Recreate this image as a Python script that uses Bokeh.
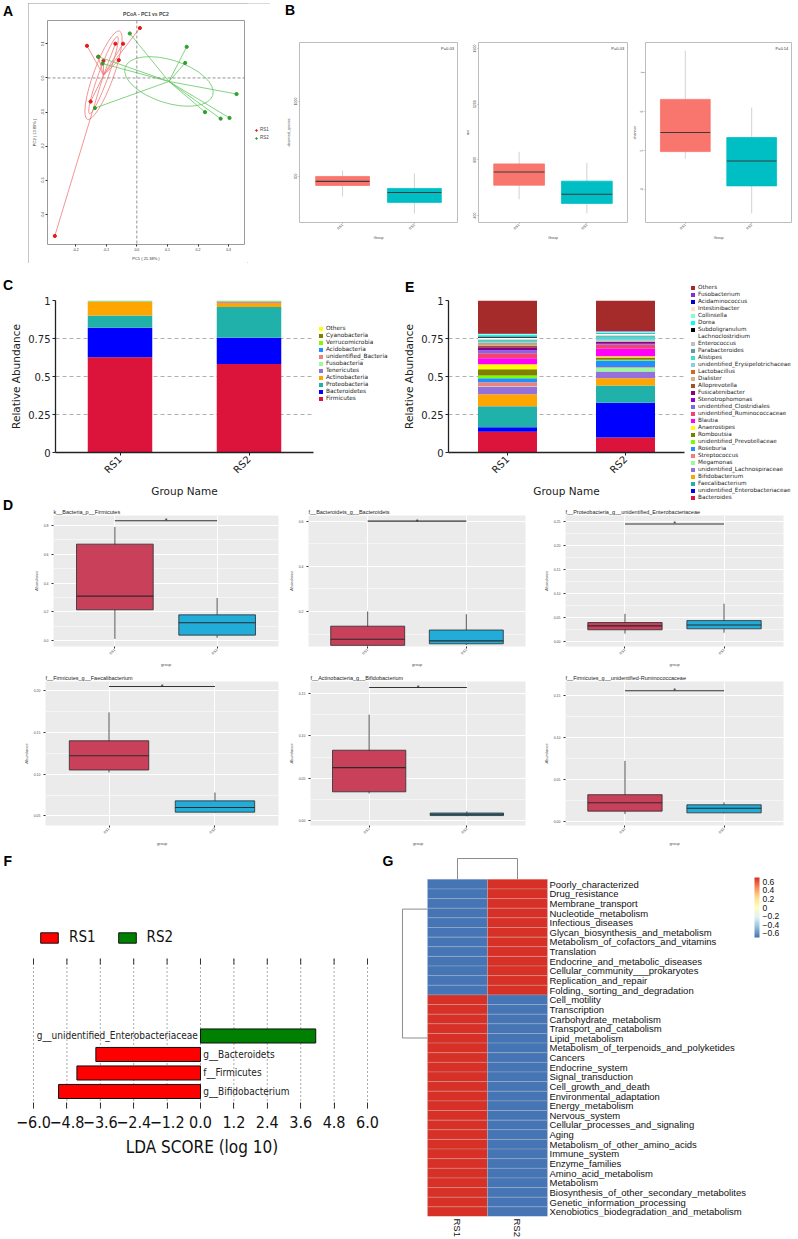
import math
from bokeh.plotting import figure
from bokeh.layouts import row, column
from bokeh.models import (Range1d, FixedTicker, Label, Legend, LegendItem, Span,
                          LinearColorMapper, ColorBar, CustomJSTickFormatter, ColumnDataSource,
                          Div, Spacer, AllLabels)
from bokeh.core.properties import value
from bokeh.palettes import RdYlBu
from bokeh.embed import file_html
from bokeh.resources import INLINE

# ====================== DATA ======================
groups = ["RS1", "RS2"]

# --- A: PCoA ---
pc_rs1_x = [0.010, -0.163, -0.070, -0.045, -0.059, -0.109, -0.126, -0.151, -0.268]
pc_rs1_y = [0.146, 0.094, 0.100, 0.100, 0.052, 0.050, 0.062, -0.069, -0.462]
pc_rs2_x = [-0.023, 0.163, 0.158, -0.126, -0.112, -0.137, 0.326, 0.223, 0.274, 0.303]
pc_rs2_y = [0.130, 0.091, 0.044, 0.062, 0.042, -0.088, -0.047, -0.100, -0.119, -0.117]
pc_xticks = [-0.2, -0.1, 0.0, 0.1, 0.2, 0.3]
pc_yticks = [-0.4, -0.3, -0.2, -0.1, 0.0, 0.1]

# --- B: alpha diversity (q1, median, q3, lower whisker, upper whisker) ---
alpha_metrics = ["observed_species", "ace", "shannon"]
alpha_rs1 = [[440, 467, 500, 367, 540], [618, 713, 771, 516, 858], [4.97, 5.46, 6.31, 4.79, 7.56]]
alpha_rs2 = [[327, 393, 420, 253, 520], [487, 553, 647, 415, 778], [4.09, 4.73, 5.33, 3.38, 6.10]]
alpha_p = ["P=0.03", "P=0.03", "P=0.14"]
alpha_ticks = [[500, 1000], [400, 800, 1200, 1600], [4, 5, 6, 7]]
alpha_ylim = [(193, 1393), (350, 1643), (3.15, 7.77)]

# --- C: phylum relative abundance (bottom to top) ---
phyla = ["Firmicutes", "Bacteroidetes", "Proteobacteria", "Actinobacteria", "Tenericutes",
         "Fusobacteria", "unidentified_Bacteria", "Acidobacteria", "Verrucomicrobia",
         "Cyanobacteria", "Others"]
phyla_rs1 = [0.627, 0.193, 0.082, 0.088, 0.002, 0.001, 0.001, 0.001, 0.001, 0.002, 0.002]
phyla_rs2 = [0.582, 0.173, 0.202, 0.029, 0.005, 0.002, 0.001, 0.001, 0.001, 0.002, 0.002]
phyla_colors = ["#DC143C", "#0000FF", "#20B2AA", "#FFA500", "#9370DB", "#98FB98", "#F08080",
                "#1E90FF", "#7CFC00", "#808000", "#FFFF00"]

# --- E: genus relative abundance (bottom to top) ---
genera = ["Bacteroides", "unidentified_Enterobacteriaceae", "Faecalibacterium", "Bifidobacterium",
          "unidentified_Lachnospiraceae", "Megamonas", "Streptococcus", "Roseburia",
          "unidentified_Prevotellaceae", "Romboutsia", "Anaerostipes", "Blautia",
          "unidentified_Ruminococcaceae", "unidentified_Clostridiales", "Stenotrophomonas",
          "Fusicatenibacter", "Alloprevotella", "Dialister", "Lactobacillus",
          "unidentified_Erysipelotrichaceae", "Alistipes", "Parabacteroides", "Enterococcus",
          "Lachnoclostridium", "Subdoligranulum", "Dorea", "Collinsella", "Intestinibacter",
          "Acidaminococcus", "Fusobacterium", "Others"]
genera_rs1 = [0.136, 0.030, 0.138, 0.080, 0.048, 0.004, 0.026, 0.026, 0.018, 0.042, 0.032, 0.040,
              0.033, 0.018, 0.004, 0.018, 0.008, 0.010, 0.008, 0.006, 0.010, 0.006, 0.004, 0.010,
              0.008, 0.010, 0.005, 0.002, 0.001, 0.001, 0.218]
genera_rs2 = [0.098, 0.230, 0.112, 0.048, 0.045, 0.024, 0.006, 0.042, 0.006, 0.014, 0.008, 0.050,
              0.026, 0.004, 0.002, 0.012, 0.002, 0.004, 0.002, 0.012, 0.014, 0.006, 0.004, 0.008,
              0.004, 0.006, 0.005, 0.002, 0.002, 0.002, 0.200]
genera_colors = ["#DC143C", "#0000FF", "#20B2AA", "#FFA500", "#9370DB", "#98FB98", "#F08080",
                 "#1E90FF", "#7CFC00", "#808000", "#FFFF00", "#FF00FF", "#F4436F", "#7B68EE",
                 "#9400D3", "#8B008B", "#A0522D", "#D2B48C", "#D2691E", "#87CEEB", "#40E0D0",
                 "#5F9EA0", "#C0C0C0", "#FFFFFF", "#000000", "#00FFFF", "#7FFFD4", "#FFE4C4",
                 "#0000CD", "#8A2BE2", "#A52A2A"]

# --- D: differential taxa boxplots (q1, median, q3, lower, upper) ---
d_titles = ["k__Bacteria_p__Firmicutes", "f__Bacteroidets_g__Bacteroidets",
            "f__Proteobacteria_g__unidentified_Enterobacteriaceae",
            "f__Firmicutes_g__Faecalibacterium", "f__Actinobacteria_g__Bifidobacterium",
            "f__Firmicutes_g__unidentified-Ruminococcaceae"]
d_rs1 = [[0.215, 0.310, 0.671, 0.013, 0.790], [0.050, 0.077, 0.135, 0.046, 0.200],
         [0.025, 0.033, 0.040, 0.017, 0.058], [0.105, 0.122, 0.140, 0.102, 0.174],
         [0.034, 0.0625, 0.083, 0.032, 0.125], [0.0125, 0.0225, 0.032, 0.009, 0.072]]
d_rs2 = [[0.039, 0.125, 0.180, 0.020, 0.297], [0.057, 0.070, 0.118, 0.052, 0.188],
         [0.027, 0.035, 0.044, 0.019, 0.079], [0.0545, 0.060, 0.068, 0.054, 0.078],
         [0.006, 0.0075, 0.009, 0.005, 0.011], [0.0105, 0.016, 0.020, 0.010, 0.023]]
d_sig = [0.834, 0.600, 0.244, 0.205, 0.157, 0.155]
d_ticks = [[0.0, 0.2, 0.4, 0.6, 0.8], [0.2, 0.4, 0.6], [0.0, 0.05, 0.10, 0.15, 0.20, 0.25],
           [0.05, 0.10, 0.15, 0.20], [0.0, 0.05, 0.10, 0.15], [0.0, 0.05, 0.10, 0.15]]
d_dec = [1, 1, 2, 2, 2, 2]
d_ylim = [(-0.04, 0.87), (0.045, 0.625), (-0.0096, 0.2615), (0.0385, 0.211), (-0.0057, 0.164),
          (-0.0045, 0.166)]

# --- F: LEfSe ---
lda_features = ["g__unidentified_Enterobacteriaceae", "g__Bacteroidets", "f__Firmicutes",
                "g__Bifidobacterium"]
lda_scores = [4.14, -3.76, -4.44, -5.10]
lda_groups = ["RS2", "RS1", "RS1", "RS1"]
lda_ticks = [-6.0, -4.8, -3.6, -2.4, -1.2, 0.0, 1.2, 2.4, 3.6, 4.8, 6.0]

# --- G: KEGG heatmap (row z-scores) ---
pathways = ["Poorly_characterized", "Drug_resistance", "Membrane_transport", "Nucleotide_metabolism",
            "Infectious_diseases", "Glycan_biosynthesis_and_metabolism",
            "Metabolism_of_cofactors_and_vitamins", "Translation", "Endocrine_and_metabolic_diseases",
            "Cellular_community___prokaryotes", "Replication_and_repair",
            "Folding,_sorting_and_degradation", "Cell_motility", "Transcription",
            "Carbohydrate_metabolism", "Transport_and_catabolism", "Lipid_metabolism",
            "Metabolism_of_terpenoids_and_polyketides", "Cancers", "Endocrine_system",
            "Signal_transduction", "Cell_growth_and_death", "Environmental_adaptation",
            "Energy_metabolism", "Nervous_system", "Cellular_processes_and_signaling", "Aging",
            "Metabolism_of_other_amino_acids", "Immune_system", "Enzyme_families",
            "Amino_acid_metabolism", "Metabolism", "Biosynthesis_of_other_secondary_metabolites",
            "Genetic_information_processing", "Xenobiotics_biodegradation_and_metabolism"]
hm_rs1 = [-0.707, -0.707, -0.707, -0.707, -0.707, -0.707, -0.707, -0.707, -0.707, -0.707, -0.707,
          -0.707, 0.707, 0.707, 0.707, 0.707, 0.707, 0.707, 0.707, 0.707, 0.707, 0.707, 0.707,
          0.707, 0.707, 0.707, 0.707, 0.707, 0.707, 0.707, 0.707, 0.707, 0.707, 0.707, 0.707]
hm_rs2 = [0.707, 0.707, 0.707, 0.707, 0.707, 0.707, 0.707, 0.707, 0.707, 0.707, 0.707,
          0.707, -0.707, -0.707, -0.707, -0.707, -0.707, -0.707, -0.707, -0.707, -0.707, -0.707,
          -0.707, -0.707, -0.707, -0.707, -0.707, -0.707, -0.707, -0.707, -0.707, -0.707, -0.707,
          -0.707, -0.707]
row_dendro_anchor = [3.09, 16.47]   # rows from top where the two clusters join
row_tree_height = 0.417
col_tree_height = 2.16
cbar_ticks = [-0.6, -0.4, -0.2, 0.0, 0.2, 0.4, 0.6]

# ====================== HELPERS ======================
SANS = "DejaVu Sans"
ARIAL = "Liberation Sans"
NARROW = "'Liberation Sans Narrow', 'DejaVu Sans Condensed', sans-serif"


def base_fig(w, h, l, r, t, b, xr, yr, **kw):
    p = figure(width=w, height=h, x_range=xr, y_range=yr, output_backend="svg",
               toolbar_location=None, tools="", min_border_left=l, min_border_right=r,
               min_border_top=t, min_border_bottom=b, **kw)
    try:
        p.frame_align = False
    except Exception:
        pass
    p.xgrid.grid_line_color = None
    p.ygrid.grid_line_color = None
    p.outline_line_color = None
    return p


def legend_fig(w, h):
    # legend-only canvas; its proxy glyphs sit outside the visible ranges
    p = figure(width=w, height=h, x_range=Range1d(1, 2), y_range=Range1d(1, 2),
               output_backend="svg", toolbar_location=None, tools="", x_axis_location=None,
               y_axis_location=None, min_border_left=0, min_border_right=0, min_border_top=0,
               min_border_bottom=0)
    try:
        p.frame_align = False
    except Exception:
        pass
    p.outline_line_color = None
    p.grid.visible = False
    return p


def style_axis(ax, font, size, lsize, color="#333333", tick_out=2, standoff=1, lstandoff=2,
               tick_color="#333333"):
    ax.major_label_text_font = font
    ax.major_label_text_font_size = size
    ax.major_label_text_color = color
    ax.axis_label_text_font = font
    ax.axis_label_text_font_size = lsize
    ax.axis_label_text_font_style = "normal"
    ax.axis_label_text_color = color
    ax.major_tick_out = tick_out
    ax.major_tick_in = 0
    ax.major_tick_line_color = tick_color
    ax.minor_tick_line_color = None
    ax.major_label_standoff = standoff
    ax.axis_label_standoff = lstandoff


def letter_div(text, w, h, indent, cap_top):
    lh = 2 * (cap_top - 2.65) + 15.64
    return Div(text=text, width=w, height=h,
               styles={"font-family": "'Liberation Sans', Arial, sans-serif",
                       "font-size": "14px", "font-weight": "bold",
                       "line-height": "%.1fpx" % lh, "text-indent": "%dpx" % indent,
                       "color": "black", "margin": "0", "padding": "0"})


def fmt(dec):
    return CustomJSTickFormatter(code="return tick.toFixed(%d);" % dec)


def draw_boxes(p, stats_list, fills, line_colors, med_color, wh_color, wh_width, bw=0.75):
    xs = [1, 2]
    q1 = [s[0] for s in stats_list]
    med = [s[1] for s in stats_list]
    q3 = [s[2] for s in stats_list]
    lo = [s[3] for s in stats_list]
    hi = [s[4] for s in stats_list]
    p.segment(x0=xs, y0=lo, x1=xs, y1=hi, line_color=wh_color, line_width=wh_width)
    p.vbar(x=xs, bottom=q1, top=q3, width=bw, fill_color=fills, line_color=line_colors,
           line_width=0.8)
    p.segment(x0=[x - bw / 2 for x in xs], y0=med, x1=[x + bw / 2 for x in xs], y1=med,
              line_color=med_color, line_width=1.1)


def proxy_items(p, names, colors, kind):
    items = []
    for n, c in zip(names, colors):
        if kind == "bar":
            r = p.vbar(x=[0], bottom=[0], top=[0], width=0, fill_color=c, line_color=None)
        else:
            r = p.scatter(x=[0], y=[0], size=3.2, fill_color=c, line_color=c)
        items.append(LegendItem(label=n, renderers=[r]))
    return items


# ====================== PANEL A ======================
A_W, A_H = 219, 260
pA = base_fig(A_W, A_H, 13, 3, 17, 17, Range1d(-0.292, 0.352), Range1d(-0.487, 0.168))
pA.outline_line_color = "#9a9a9a"
pA.title.text = "PCoA - PC1 vs PC2"
pA.title.align = "center"
pA.title.text_font = ARIAL
pA.title.text_font_size = "5px"
pA.title.standoff = 7
pA.title.offset = 0
pA.xaxis.ticker = FixedTicker(ticks=pc_xticks)
pA.yaxis.ticker = FixedTicker(ticks=pc_yticks)
pA.xaxis.formatter = fmt(1)
pA.yaxis.formatter = fmt(1)
pA.xaxis.axis_label = "PC1 ( 21.38% )"
pA.yaxis.axis_label = "PC2 ( 13.89% )"
for ax in (pA.xaxis[0], pA.yaxis[0]):
    style_axis(ax, ARIAL, "3.5px", "4px", tick_out=2, standoff=1, lstandoff=2)
    ax.axis_line_color = None
pA.yaxis.major_label_orientation = "vertical"
pA.add_layout(Span(location=0, dimension="height", line_dash="3 2", line_color="#666666",
                   line_width=0.7))
pA.add_layout(Span(location=0, dimension="width", line_dash="3 2", line_color="#666666",
                   line_width=0.7))
pc_colors = ["#E31A1C", "#2CA02C"]
pc_sets = [("RS1", pc_rs1_x, pc_rs1_y, pc_colors[0], "#F07A7A",
            [(94, 20, 70), (82, 10, 70)]),
           ("RS2", pc_rs2_x, pc_rs2_y, pc_colors[1], "#62C862",
            [(92, 43, -17.7)])]
for name, xs, ys, pcol, lcol, ells in pc_sets:
    cx = sum(xs) / len(xs)
    cy = sum(ys) / len(ys)
    pA.segment(x0=[cx] * len(xs), y0=[cy] * len(ys), x1=xs, y1=ys, line_color=lcol,
               line_width=0.8)
    for (ew, eh, ea) in ells:
        pA.ellipse(x=[cx], y=[cy], width=[ew], height=[eh], angle=[ea], angle_units="deg",
                   width_units="screen", height_units="screen", fill_alpha=0,
                   line_color=lcol, line_width=0.8)
    pA.scatter(xs, ys, size=3.2, color=pcol)
pAL = legend_fig(23, A_H)
legA = Legend(items=proxy_items(pAL, groups, pc_colors, "dot"),
              location=(7, 123), label_text_font=ARIAL,
              label_text_font_size="4.5px", glyph_width=4, glyph_height=4, label_height=5,
              spacing=3, padding=0, margin=0, label_standoff=2, border_line_color=None,
              background_fill_alpha=0)
pAL.add_layout(legA)
boxA = row(pA, pAL, styles={"outline": "1px solid #b4b4b4", "outline-offset": "-1px"})
colA = column(Spacer(width=A_W + 23, height=3), boxA, Spacer(width=A_W + 23, height=7))
divA = letter_div("A", 28, 270, 3, 6)

# ====================== PANEL B ======================
b_specs = [(192, 29, 5), (167, 12, 2), (169, 8, 7)]
pBs = []
for k in range(3):
    w, fl, fr = b_specs[k]
    lo, hi = alpha_ylim[k]
    h, ft = (240, 12) if k == 0 else (270, 42)
    p = base_fig(w, h, fl, fr, ft, 48, Range1d(0.4, 2.6), Range1d(lo, hi))
    p.outline_line_color = "#bdbdbd"
    draw_boxes(p, [alpha_rs1[k], alpha_rs2[k]], ["#F8766D", "#00BFC4"], ["#F8766D", "#00BFC4"],
               "#3a3a3a", "#c8c8c8", 0.8)
    p.text(x=[2.55], y=[hi - (hi - lo) * 0.02], text=[alpha_p[k]], text_align="right",
           text_baseline="top", text_font_size="4px", text_font=value(ARIAL),
           text_color="#333333")
    p.xaxis.ticker = FixedTicker(ticks=[1, 2])
    p.xaxis.major_label_overrides = {1: "RS1", 2: "RS2"}
    p.xaxis.major_label_orientation = math.pi / 4
    p.xaxis.axis_label = "Group"
    p.yaxis.ticker = FixedTicker(ticks=alpha_ticks[k])
    p.yaxis.axis_label = alpha_metrics[k]
    p.yaxis.major_label_orientation = "vertical"
    for ax in (p.xaxis[0], p.yaxis[0]):
        style_axis(ax, ARIAL, "3.5px", "3.5px", color="#444444", tick_out=1, standoff=1,
                   lstandoff=1, tick_color="#aaaaaa")
        ax.axis_line_color = None
    pBs.append(p)
colB1 = column(letter_div("B", 192, 30, 15, 5), pBs[0])

# ====================== PANEL C & E ======================


def stacked(p, names, v1, v2, colors):
    src = ColumnDataSource(dict(x=[1, 2], **{n: [a, b] for n, a, b in zip(names, v1, v2)}))
    p.vbar_stack(names, x="x", width=0.5, fill_color=colors, line_color=None, source=src)
    p.ygrid.grid_line_color = "#9a9a9a"
    p.ygrid.grid_line_dash = "4 3"
    p.ygrid.grid_line_width = 0.8
    p.ygrid.ticker = FixedTicker(ticks=[0.25, 0.5, 0.75])
    p.xaxis.ticker = FixedTicker(ticks=[1, 2])
    p.xaxis.major_label_overrides = {1: "RS1", 2: "RS2"}
    p.xaxis.major_label_orientation = math.pi / 4
    p.xaxis.axis_label = "Group Name"
    p.yaxis.ticker = FixedTicker(ticks=[0, 0.25, 0.5, 0.75, 1])
    p.yaxis.formatter = CustomJSTickFormatter(code="return String(tick);")
    p.yaxis.axis_label = "Relative Abundance"
    for ax in (p.xaxis[0], p.yaxis[0]):
        style_axis(ax, SANS, "10px", "10.5px", color="#222222", tick_out=3, standoff=2,
                   lstandoff=3, tick_color="#222222")
        ax.axis_line_color = "#222222"
        ax.axis_line_width = 1.3


def abundance_legend(pl, names, colors, loc, font_size, spacing):
    leg = Legend(items=proxy_items(pl, names, colors, "bar")[::-1], location=loc,
                 label_text_font=SANS, label_text_font_size=font_size, glyph_width=5,
                 glyph_height=5, label_height=5, spacing=spacing, padding=0, margin=0,
                 label_standoff=3, border_line_color=None, background_fill_alpha=0,
                 label_text_color="#222222")
    pl.add_layout(leg)


pC = base_fig(315, 208, 55, 2, 8, 30, Range1d(0.5, 2.5), Range1d(0, 1))
stacked(pC, phyla, phyla_rs1, phyla_rs2, phyla_colors)
pCL = legend_fig(85, 230)
abundance_legend(pCL, phyla, phyla_colors, (3, 99), "5.8px", 1)
colC = column(letter_div("C", 315, 22, 3, 10), pC)

pE = base_fig(286, 208, 28, 2, 8, 29, Range1d(0.5, 2.5), Range1d(0, 1))
stacked(pE, genera, genera_rs1, genera_rs2, genera_colors)
pEL = legend_fig(112, 230)
abundance_legend(pEL, genera, genera_colors, (4, 0), "5.7px", 1)
colE = column(letter_div("E", 286, 22, 5, 12), pE)

# ====================== PANEL D ======================
d_cols = [[(255, 15, 7), (285, 45, 7)], (255, 17, 15), (258, 20, 15)]
d_rows = [(170, 15, 14), (179, 11, 18)]
pDs = []
for k in range(6):
    rr, cc = divmod(k, 3)
    if cc == 0:
        w, fl, fr = d_cols[0][rr]
    else:
        w, fl, fr = d_cols[cc]
    h, ft, fb = d_rows[rr]
    lo, hi = d_ylim[k]
    p = base_fig(w, h, fl, fr, ft, fb, Range1d(0.4, 2.6), Range1d(lo, hi))
    p.background_fill_color = "#EBEBEB"
    p.title.text = d_titles[k]
    p.title.align = "left"
    p.title.text_font = ARIAL
    p.title.text_font_size = "5.5px"
    p.title.text_font_style = "normal"
    p.title.text_color = "#222222"
    p.title.standoff = 2
    p.title.offset = 0
    ticks = d_ticks[k]
    step = ticks[1] - ticks[0]
    minors = [t - step / 2 for t in ticks] + [ticks[-1] + step / 2]
    p.yaxis.ticker = FixedTicker(ticks=ticks, minor_ticks=minors)
    p.yaxis.formatter = fmt(d_dec[k])
    p.ygrid.ticker = FixedTicker(ticks=ticks, minor_ticks=minors)
    p.ygrid.grid_line_color = "white"
    p.ygrid.grid_line_width = 1
    p.ygrid.minor_grid_line_color = "white"
    p.ygrid.minor_grid_line_width = 0.5
    p.xgrid.ticker = FixedTicker(ticks=[1, 2])
    p.xgrid.grid_line_color = "white"
    p.xgrid.grid_line_width = 1
    draw_boxes(p, [d_rs1[k], d_rs2[k]], ["#C8405A", "#22ACD8"], ["#2b2b2b", "#2b2b2b"],
               "#2b2b2b", "#555555", 1.0)
    p.segment(x0=[1], y0=[d_sig[k]], x1=[2], y1=[d_sig[k]], line_color="#333333",
              line_width=1.1)
    p.text(x=[1.5], y=[d_sig[k]], text=["*"], text_align="center", text_baseline="middle",
           text_font_size="7px", text_font=value(ARIAL), text_color="#222222")
    p.xaxis.ticker = FixedTicker(ticks=[1, 2])
    p.xaxis.major_label_overrides = {1: "RS1", 2: "RS2"}
    p.xaxis.major_label_orientation = math.pi / 4
    p.xaxis.axis_label = "group"
    p.yaxis.axis_label = "Abundance"
    for ax in (p.xaxis[0], p.yaxis[0]):
        style_axis(ax, ARIAL, "3.5px", "4px", color="#4d4d4d", tick_out=2, standoff=1,
                   lstandoff=2, tick_color="#333333")
        ax.axis_line_color = None
    p.yaxis.axis_label_text_font_style = "italic"
    pDs.append(p)
divD = letter_div("D", 30, 170, 3, 0)

# ====================== PANEL F ======================
F_W, F_H, F_FL, F_FR, F_FT, F_FB = 400, 390, 3, 0, 2, 131
n_feat = len(lda_features)
F_YBOT, F_LINE_TOP, F_TICK = -0.92, 7.19, 0.324
pF = base_fig(F_W, F_H, F_FL, F_FR, F_FT, F_FB, Range1d(-7.078, 7.186),
              Range1d(F_YBOT, 12.97))
pF.segment(x0=lda_ticks, y0=[F_YBOT] * len(lda_ticks), x1=lda_ticks,
           y1=[F_LINE_TOP] * len(lda_ticks), line_color="#444444", line_dash="1 3",
           line_width=0.9)
pF.segment(x0=lda_ticks, y0=[F_LINE_TOP - F_TICK] * len(lda_ticks), x1=lda_ticks,
           y1=[F_LINE_TOP] * len(lda_ticks), line_color="#333333", line_width=1)
bottom_ax = pF.below[0]
bottom_ax.ticker = FixedTicker(ticks=lda_ticks)
bottom_ax.formatter = CustomJSTickFormatter(code="return tick.toFixed(1).replace('-', '\u2212');")
bottom_ax.axis_label = "LDA SCORE (log 10)"
style_axis(bottom_ax, NARROW, "16px", "17px", color="#111111", tick_out=0, standoff=7,
           lstandoff=6, tick_color="#333333")
bottom_ax.major_tick_in = 6
bottom_ax.axis_line_color = None
pF.yaxis.visible = False
legF_items = []
for g, col in (("RS1", "#FF0000"), ("RS2", "#008000")):
    ys, lefts, rights = [], [], []
    for i in range(n_feat):
        if lda_groups[i] == g:
            ys.append(n_feat - 1 - i)
            lefts.append(min(0, lda_scores[i]))
            rights.append(max(0, lda_scores[i]))
    r = pF.hbar(y=ys, left=lefts, right=rights, height=0.76, fill_color=col,
                line_color="#111111", line_width=1)
    legF_items.append(LegendItem(label=g, renderers=[r]))
for i in range(n_feat):
    s = lda_scores[i]
    pF.text(x=[-0.1 if s > 0 else 0.1], y=[n_feat - 1 - i], text=[lda_features[i]],
            text_align="right" if s > 0 else "left", text_baseline="middle",
            text_font=value(NARROW), text_font_size="10px", text_color="#222222")
legF = Legend(items=legF_items, location=(35, 162), orientation="horizontal",
              label_text_font=NARROW, label_text_font_size="15px", glyph_width=22,
              glyph_height=13, label_height=13, spacing=20, padding=0, margin=0,
              label_standoff=9, border_line_color=None, background_fill_alpha=0,
              label_text_color="#111111")
pF.add_layout(legF)
F_FRAME_BOTTOM = F_H - F_FB
for txt, lx in (("F", 3), ("G", 382)):
    pF.add_layout(Label(x=lx - F_FL, y=F_FRAME_BOTTOM - 3, x_units="screen", y_units="screen",
                        text=txt, text_font=ARIAL, text_font_size="14px",
                        text_font_style="bold", text_baseline="top", text_align="left",
                        text_color="black"))

# ====================== PANEL G ======================
G_W, G_H, G_FL, G_FR, G_FT, G_FB = 398, 390, 1, 0, 7, 20
n_path = len(pathways)
pG = base_fig(G_W, G_H, G_FL, G_FR, G_FT, G_FB, Range1d(-0.4333, 6.183), Range1d(0, 37.37))
pal7 = tuple(RdYlBu[7])
try:
    from bokeh.palettes import interp_palette
    pal = interp_palette(pal7, 100)
except Exception:
    pal = pal7
mapper = LinearColorMapper(palette=pal, low=-0.7, high=0.7)
hm_x, hm_y, hm_v = [], [], []
for i in range(n_path):
    for j, vals in enumerate((hm_rs1, hm_rs2)):
        hm_x.append(j + 0.5)
        hm_y.append(n_path - i - 0.5)
        hm_v.append(vals[i])
pG.rect(x="x", y="y", width=1, height=1, source=ColumnDataSource(dict(x=hm_x, y=hm_y, v=hm_v)),
        fill_color={"field": "v", "transform": mapper}, line_color="#c8c8c8", line_width=0.4,
        line_alpha=0.7)
centers = [n_path - i - 0.5 for i in range(n_path)]
pG.text(x=[2.033] * n_path, y=centers, text=pathways, text_align="left", text_baseline="middle",
        text_font=value(ARIAL), text_font_size="9.5px", text_color="#111111")
top = n_path + col_tree_height
pG.multi_line(xs=[[0.5, 0.5, 1.5, 1.5]], ys=[[n_path, top, top, n_path]], line_color="#8c8c8c",
              line_width=1)
ya = [n_path - a for a in row_dendro_anchor]
pG.multi_line(xs=[[0, -row_tree_height, -row_tree_height, 0]], ys=[[ya[0], ya[0], ya[1], ya[1]]],
              line_color="#8c8c8c", line_width=1)
pG.yaxis.visible = False
pG.xaxis.ticker = FixedTicker(ticks=[0.5, 1.5])
pG.xaxis.major_label_overrides = {0.5: "RS1", 1.5: "RS2"}
pG.xaxis.major_label_orientation = -math.pi / 2
style_axis(pG.xaxis[0], ARIAL, "9.5px", "9.5px", color="#111111", tick_out=0, standoff=2,
           lstandoff=2, tick_color=None)
pG.xaxis.axis_line_color = None
cb = ColorBar(color_mapper=mapper, location=(353, 279), width=5, height=60,
              ticker=FixedTicker(ticks=cbar_ticks),
              formatter=CustomJSTickFormatter(
                  code="if (Math.abs(tick) < 1e-9) { return '0'; } "
                       "return tick.toFixed(1).replace('-', '\u2212');"),
              major_label_text_font=ARIAL, major_label_text_font_size="8.5px",
              major_label_text_color="#111111", label_standoff=3, padding=0, margin=0,
              major_tick_line_color=None, bar_line_color=None, border_line_color=None,
              background_fill_alpha=0)
try:
    cb.major_label_policy = AllLabels()
except Exception:
    pass
pG.add_layout(cb)

# ====================== LAYOUT ======================
layout = column(
    row(divA, colA, colB1, pBs[1], pBs[2]),
    row(colC, pCL, colE, pEL),
    row(divD, pDs[0], pDs[1], pDs[2]),
    row(pDs[3], pDs[4], pDs[5]),
    row(pF, pG),
)
open("out.html", "w", encoding="utf-8").write(file_html(layout, INLINE))
